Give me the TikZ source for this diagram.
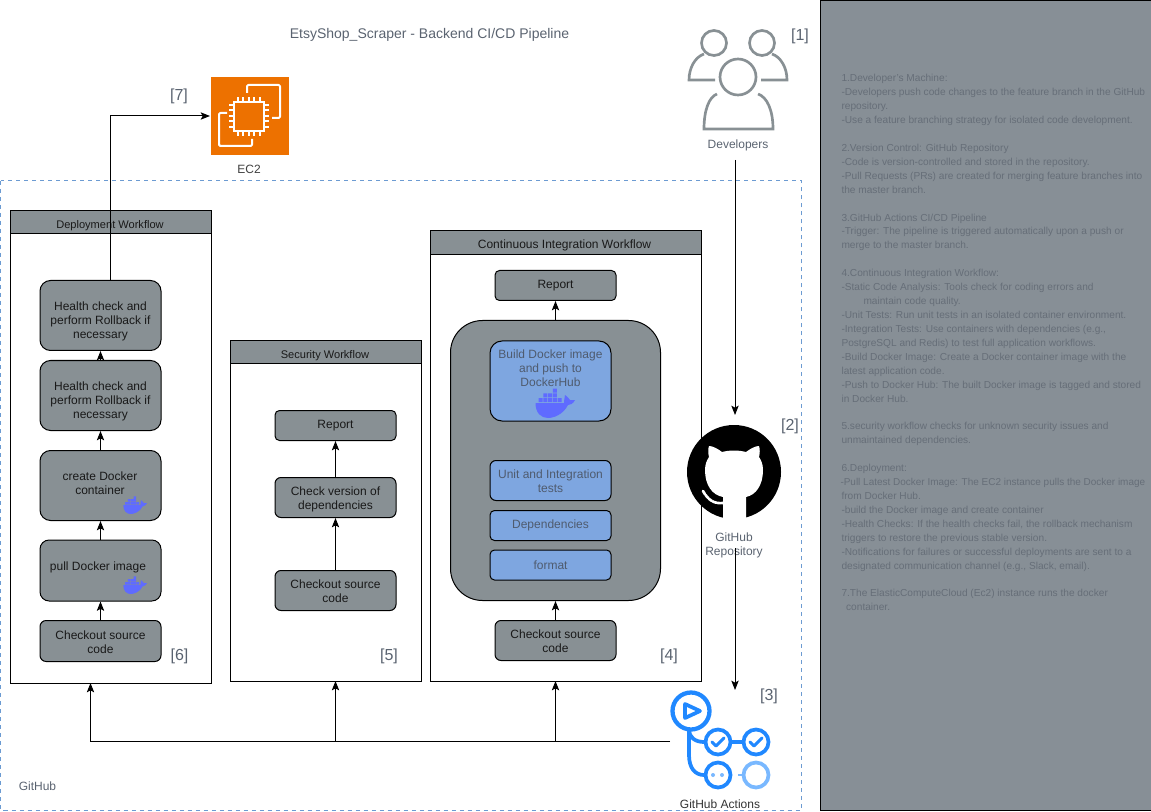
\documentclass[tikz,border=0pt]{standalone}
\usepackage{fontspec}
\setmainfont{Liberation Sans}
\usetikzlibrary{arrows.meta}
\definecolor{boxgray}{HTML}{889094}
\definecolor{panelgray}{HTML}{878F96}
\definecolor{boxblue}{HTML}{7EA6E0}
\definecolor{dimtxt}{HTML}{5A6370}
\definecolor{bluetxt}{HTML}{4F5B6E}
\definecolor{paneltxt}{HTML}{666E78}
\definecolor{dashblue}{HTML}{6C9BD2}
\definecolor{iconblue}{HTML}{2088FF}
\definecolor{iconlight}{HTML}{79B8FF}
\definecolor{whale}{HTML}{5F6BFF}
\definecolor{awsorange}{HTML}{ED7100}
\tikzset{
  whalepic/.pic={
    \fill[whale] (-19.5,0) -- (9,0) .. controls (9,-4) and (10,-6) .. (10,-8)
      .. controls (13,-6) and (14,-4) .. (15,-3) -- (20,-3)
      .. controls (18,1) and (15,2) .. (13,2)
      .. controls (8,12) and (-2,15) .. (-7,15)
      .. controls (-14,15) and (-19.5,10) .. (-19.5,0) -- cycle;
    \fill[whale] (-16.5,-4.8) rectangle ++(4,4) (-11.7,-4.8) rectangle ++(4,4)
      (-6.9,-4.8) rectangle ++(4,4) (-2.1,-4.8) rectangle ++(4,4)
      (2.7,-4.8) rectangle ++(4,4)
      (-11.7,-9.6) rectangle ++(4,4) (-6.9,-9.6) rectangle ++(4,4)
      (-2.1,-9.6) rectangle ++(4,4) (-2.1,-14.4) rectangle ++(4,4);
  }
}
\begin{document}
\begin{tikzpicture}[x=.75pt,y=-.75pt,line width=.75pt,>={Stealth[length=7pt,width=5.5pt,inset=1.5pt]},
    every node/.style={font=\fontsize{9}{10.5}\selectfont},
    bx/.style={draw,fill=boxgray,text=black!90,align=center,minimum width=90.75pt,
      minimum height=#1*.75pt,rounded corners=#1*.1125pt,inner sep=1pt},
    blu/.style={bx=#1,fill=boxblue,text=bluetxt},
    lane/.style={draw,fill=white,minimum width=#1*.75pt,inner sep=0pt,outer sep=0pt,anchor=north west},
    txt/.style={align=center,text=black!90},
    tag/.style={text=dimtxt,font=\fontsize{12}{14}\selectfont},
    lbl/.style={text=dimtxt}]
  \useasboundingbox (0,0) rectangle (1151,812);
  \node[lbl,font=\fontsize{10.5}{12}\selectfont] (title) at (429.5,34.5) {EtsyShop\_Scraper - Backend CI/CD Pipeline};
  %
  \draw[dashblue,dashed] (0.5,181) rectangle (801,810);
  \node[lbl] (ghlab) at (37.5,786) {GitHub};
  %
  \node[lane=331,fill=panelgray,minimum height=607.5pt] (panel) at (820.5,0.5) {};
  \node[anchor=north west,inner sep=0pt,align=left,text=paneltxt,font=\fontsize{7.6}{10.44}\selectfont] (ptext) at (841,74) {%
    1.Developer's Machine:\\
    -Developers push code changes to the feature branch in the GitHub\\
    repository.\\
    -Use a feature branching strategy for isolated code development.\\
    ~\\
    2.Version Control: GitHub Repository\\
    -Code is version-controlled and stored in the repository.\\
    -Pull Requests (PRs) are created for merging feature branches into\\
    the master branch.\\
    ~\\
    3.GitHub Actions CI/CD Pipeline\\
    -Trigger: The pipeline is triggered automatically upon a push or\\
    merge to the master branch.\\
    ~\\
    4.Continuous Integration Workflow:\\
    -Static Code Analysis: Tools check for coding errors and\\
    \hspace*{16.5pt}maintain code quality.\\
    -Unit Tests: Run unit tests in an isolated container environment.\\
    -Integration Tests: Use containers with dependencies (e.g.,\\
    PostgreSQL and Redis) to test full application workflows.\\
    -Build Docker Image: Create a Docker container image with the\\
    latest application code.\\
    -Push to Docker Hub: The built Docker image is tagged and stored\\
    in Docker Hub.\\
    ~\\
    5.security workflow checks for unknown security issues and\\
    unmaintained dependencies.\\
    ~\\
    6.Deployment:\\
    \hspace*{-.75pt}{\fontsize{7.48}{10.44}\selectfont -Pull Latest Docker Image: The EC2 instance pulls the Docker image}\\
    from Docker Hub.\\
    -build the Docker image and create container\\
    -Health Checks: If the health checks fail, the rollback mechanism\\
    triggers to restore the previous stable version.\\
    -Notifications for failures or successful deployments are sent to a\\
    designated communication channel (e.g., Slack, email).\\
    ~\\
    7.The ElasticComputeCloud (Ec2) instance runs the docker\\
    \hspace*{3.5pt}container.};
  %
  % lanes
  \node[lane=201,minimum height=354.75pt] (dep) at (10.5,210.5) {};
  \node[lane=201,fill=boxgray,minimum height=17.25pt] (deptitle) at (10.5,210.5) {};
  \node[txt,font=\fontsize{8.3}{10}\selectfont] (deplab) at (110,226) {Deployment Workflow};
  \node[lane=191,minimum height=255.75pt] (sec) at (230.5,340.5) {};
  \node[lane=191,fill=boxgray,minimum height=17.25pt] (sectitle) at (230.5,340.5) {};
  \node[txt,font=\fontsize{8.3}{10}\selectfont] (seclab) at (325,356) {Security Workflow};
  \node[lane=271,minimum height=338.25pt] (ci) at (430.5,230.5) {};
  \node[lane=271,fill=boxgray,minimum height=18pt] (cititle) at (430.5,230.5) {};
  \node[txt] (cilab) at (564.5,245) {Continuous Integration Workflow};
  %
  % deployment
  \node[bx=41] (dchk) at (100.5,641) {};
  \node[txt] (dchktxt) at (100.5,642) {Checkout source\\code};
  \node[bx=61] (dpull) at (100.5,570.5) {};
  \node[txt] (dpulltxt) at (98,567) {pull Docker image};
  \node[bx=70] (dcre) at (100.5,485.5) {};
  \node[txt] (dcretxt) at (100,483) {create Docker\\container};
  \node[bx=70] (dhc2) at (100.5,395.5) {};
  \node[txt] (dhc2txt) at (100.5,401.5) {Health check and\\perform Rollback if\\necessary};
  \node[bx=70] (dhc1) at (100.5,315.5) {};
  \node[txt] (dhc1txt) at (100.5,321.5) {Health check and\\perform Rollback if\\necessary};
  \pic[scale=.6] at (135,505) {whalepic};
  \pic[scale=.6] at (135,585) {whalepic};
  \draw[->] (dchk) -- (dpull);
  \draw[->] (dpull) -- (dcre);
  \draw[->] (dcre) -- (dhc2);
  \draw[->] (dhc2) -- (dhc1);
  %
  % security
  \node[bx=40] (schk) at (335.5,590.5) {};
  \node[txt] (schktxt) at (335.5,591.5) {Checkout source\\code};
  \node[bx=40] (sver) at (335.5,497.5) {};
  \node[txt] (svertxt) at (335.5,499) {Check version of\\dependencies};
  \node[bx=30] (srep) at (335.5,425.5) {Report};
  \draw[->] (schk) -- (sver);
  \draw[->] (sver) -- (srep);
  %
  % integration
  \node[bx=40] (cchk) at (555.5,640.5) {};
  \node[txt] (cchktxt) at (555.5,641.5) {Checkout source\\code};
  \node[bx=280,minimum width=157.5pt,rounded corners=24pt] (cbig) at (555.5,460.5) {};
  \node[bx=30] (crep) at (555.5,285.5) {Report};
  \node[blu=80,anchor=north,inner sep=0pt] (cbld) at (550.5,340.5) {};
  \node[align=center,text=bluetxt] (cbldtxt) at (550.5,368) {Build Docker image\\and push to\\DockerHub};
  \pic at (555,403) {whalepic};
  \node[blu=40] (cunit) at (550.5,480.5) {};
  \node[align=center,text=bluetxt] (cunittxt) at (550.5,481) {Unit and Integration\\tests};
  \node[blu=30] (cdep) at (550.5,525.5) {Dependencies};
  \node[blu=30] (cfmt) at (550.5,565) {format};
  \draw[->] (cchk) -- (cbig);
  \draw[->] (cbig) -- (crep);
  %
  % ec2
  \node[fill=awsorange,minimum size=58.5pt,inner sep=0pt] (ec2) at (249.5,116) {};
  \node[text=black!75] (ec2lab) at (249,169) {EC2};
  \draw[white,line width=1.5pt,line join=round,rounded corners=1pt] (247,93) -- (247,85) -- (280,85) -- (280,118) -- (272,118);
  \draw[white,line width=1.5pt,line join=round,rounded corners=1pt] (227,113) -- (219,113) -- (219,146) -- (252,146) -- (252,139);
  \draw[white,line width=1.5pt] (234,102) rectangle (264,131);
  \draw[white,line width=3.4pt,dash pattern=on 1.5pt off 2.6pt] (231.5,104) -- (231.5,129);
  \draw[white,line width=3.4pt,dash pattern=on 1.5pt off 2.6pt] (266.5,104) -- (266.5,129);
  \draw[white,line width=3.4pt,dash pattern=on 1.5pt off 2.6pt] (237,99.5) -- (262,99.5);
  \draw[white,line width=3.4pt,dash pattern=on 1.5pt off 2.6pt] (237,133.5) -- (262,133.5);
  \coordinate (hctop) at (110.5,280);
  \draw[->] (hctop) |- (ec2.west);
  %
  % developers
  \node[minimum size=60pt,inner sep=0pt] (devs) at (733,85) {};
  \node[lbl] (devlab) at (738,145) {Developers};
  \begin{scope}[draw=boxgray,line width=2pt]
    \draw (714,43) circle (12.5);
    \draw (762,43) circle (12.5);
    \draw (738,77) circle (18);
    \draw (704,54) .. controls (695,57) and (689,68) .. (689,80) -- (715,80);
    \draw (772,54) .. controls (781,57) and (787,68) .. (787,80) -- (761,80);
    \draw (717,94) .. controls (709,97) and (704,110) .. (704,129) -- (773,129)
      .. controls (773,110) and (767,97) .. (758,94);
  \end{scope}
  %
  % github logo
  \node[circle,fill=black,minimum size=70.5pt,inner sep=0pt] (gh) at (734,472) {};
  \fill[white] (723,520) -- (723,497) .. controls (712,495) and (705,485) .. (705,470)
    .. controls (705,464) and (707,460) .. (709,457) .. controls (708,453) and (708,449) .. (709,446)
    .. controls (713,446) and (718,449) .. (722,452) .. controls (730,450) and (738,450) .. (746,452)
    .. controls (750,449) and (755,446) .. (759,446) .. controls (760,449) and (760,453) .. (759,457)
    .. controls (761,460) and (763,464) .. (763,470) .. controls (763,485) and (756,495) .. (746,497)
    -- (746,520) -- cycle;
  \draw[white,line width=2pt,line cap=round,dash pattern=on 3pt off .6pt] (703,491) .. controls (708,500) and (714,504) .. (723,503);
  \node[lbl,align=center] (ghname) at (734,545) {GitHub\\Repository};
  %
  % github actions
  \node[circle,minimum size=30pt,inner sep=0pt] (gha) at (691,741) {};
  \node[text=black!80] (ghalab) at (720,804) {GitHub Actions};
  \begin{scope}[draw=iconblue,line width=2.8pt]
    \draw[line cap=round] (689,730) -- (689,755) .. controls (689,768) and (695,775) .. (704,775);
    \draw (689,730) .. controls (689,737) and (695,742) .. (704,742);
    \draw (732,742) -- (742,742);
    \draw[line width=3.2pt] (691,711) circle (18.5);
    \draw[fill=white] (718,742) circle (12.5);
    \draw[fill=white] (756,742) circle (12.5);
    \draw[fill=white] (718,775) circle (12.5);
    \draw[iconlight] (756,775) circle (12.5);
    \draw[iconlight,line width=2pt] (738,775) -- (743,775);
    \draw[line join=round] (685,704) -- (685,718) -- (700,711) -- cycle;
    \draw[line width=2.2pt,line cap=round,line join=round] (712,742) -- (716,746) -- (724,738);
    \draw[line width=2.2pt,line cap=round,line join=round] (750,742) -- (754,746) -- (762,738);
  \end{scope}
  \fill[iconlight] (713,775) circle (2) (722,775) circle (2);
  %
  % arrows
  \coordinate (depin) at (90.5,683);
  \coordinate (secin) at (335.5,681);
  \coordinate (ciin) at (555.5,681);
  \coordinate (gsplit) at (670,741);
  \coordinate (ghout) at (735,548);
  \coordinate (ghain) at (735,690);
  \coordinate (ghin) at (735,415);
  \coordinate (devout) at (735,160);
  \draw[->] (gsplit) -| (depin);
  \draw[->] (335.5,741) -- (secin);
  \draw[->] (555.5,741) -- (ciin);
  \draw[->] (devout) -- (ghin);
  \draw[->] (ghout) -- (ghain);
  %
  \node[tag] (t1) at (800,36) {[1]};
  \node[tag] (t2) at (790,426) {[2]};
  \node[tag] (t3) at (769,696) {[3]};
  \node[tag] (t4) at (669,656) {[4]};
  \node[tag] (t5) at (389,656) {[5]};
  \node[tag] (t6) at (179.5,656) {[6]};
  \node[tag] (t7) at (179,96) {[7]};
\end{tikzpicture}
\end{document}
